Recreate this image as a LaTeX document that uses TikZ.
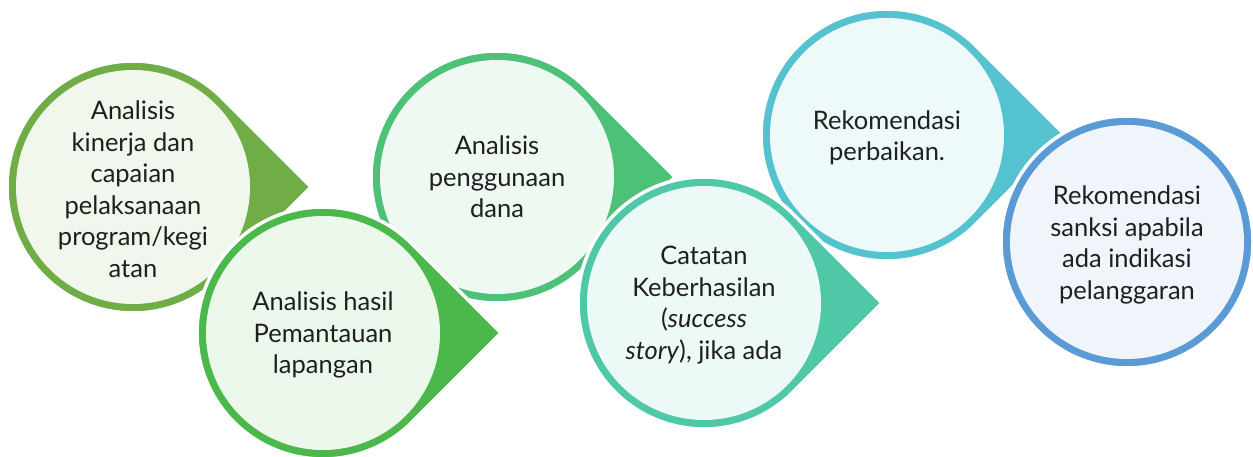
\documentclass[tikz,border=0pt]{standalone}
\usepackage{fontspec}
\setmainfont{Lato}
\begin{document}
\begin{tikzpicture}[x=1pt,y=1pt,
  steptext/.style={align=center, inner sep=0pt, text=black!88,
    font=\fontsize{25.5}{31.5}\selectfont}]
\useasboundingbox (0,0) rectangle (1253,456);

\definecolor{cA}{HTML}{70AD47}
\definecolor{cB}{HTML}{4AB84A}
\definecolor{cC}{HTML}{4CC177}
\definecolor{cD}{HTML}{4FC8A8}
\definecolor{cE}{HTML}{55C3CF}
\definecolor{cF}{HTML}{5B9BD5}

\def\R{126}
% circle with a right-pointing corner, light inner disc
\newcommand\tearshape[3]{%
  \fill[#3, draw=white, line width=3.5pt, line join=miter]
    ({#1+1.41421*\R},#2) -- ({#1+0.70711*\R},{#2+0.70711*\R})
    arc[start angle=45, end angle=315, radius=\R] -- cycle;
  \fill[#3!10!white] (#1,#2) circle[radius=\R-9];
}
% plain ring for the last step
\newcommand\roundshape[3]{%
  \fill[#3, draw=white, line width=3.5pt] (#1,#2) circle[radius=\R];
  \fill[#3!10!white] (#1,#2) circle[radius=\R-9];
}

\tearshape{133}{269}{cA}
\tearshape{497}{279}{cC}
\tearshape{887}{321}{cE}
\tearshape{323}{123}{cB}
\tearshape{704}{153}{cD}
\roundshape{1127}{214}{cF}

\node[steptext] (s1) at (133,267) {Analisis\\kinerja dan\\capaian\\pelaksanaan\\program/kegi\\atan};
\node[steptext] (s2) at (323,121) {Analisis hasil\\Pemantauan\\lapangan};
\node[steptext] (s3) at (497,279) {Analisis\\penggunaan\\dana};
\node[steptext] (s4) at (704,151) {Catatan\\Keberhasilan\\(\textit{success}\\\textit{story}), jika ada};
\node[steptext] (s5) at (887,318) {Rekomendasi\\perbaikan.};
\node[steptext] (s6) at (1127,211) {Rekomendasi\\sanksi apabila\\ada indikasi\\pelanggaran};
\end{tikzpicture}
\end{document}
